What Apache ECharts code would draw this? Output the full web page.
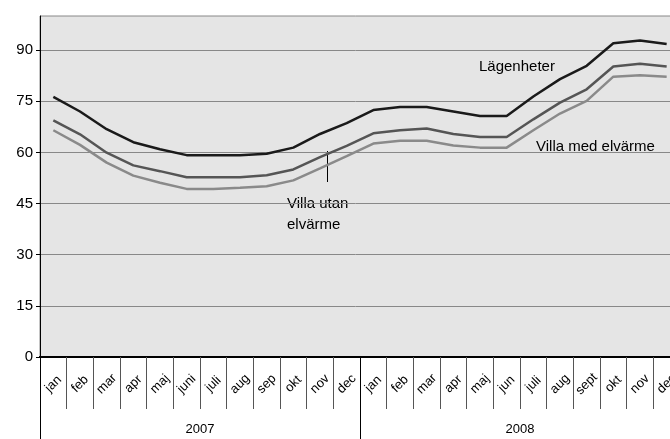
<!DOCTYPE html>
<html>
<head>
<meta charset="utf-8">
<script src="https://cdn.jsdelivr.net/npm/echarts@6/dist/echarts.min.js"></script>
<style>
  html, body { margin: 0; padding: 0; background: #fff; }
  #chart { width: 670px; height: 439px; }
</style>
</head>
<body>
<div id="chart"></div>
<script>
// månader, två år
const months = ['jan', 'feb', 'mar', 'apr', 'maj', 'juni', 'juli', 'aug', 'sep', 'okt', 'nov', 'dec',
  'jan', 'feb', 'mar', 'apr', 'maj', 'jun', 'juli', 'aug', 'sept', 'okt', 'nov', 'dec'];
const years = ['2007', '2008'];
const yTicks = [0, 15, 30, 45, 60, 75, 90];

const lagenheter = [76.3, 72.0, 66.8, 63.0, 60.9, 59.2, 59.2, 59.2, 59.6, 61.4, 65.4, 68.6,
  72.4, 73.3, 73.3, 72.0, 70.7, 70.7, 76.4, 81.5, 85.4, 92.0, 92.8, 91.8];
const villaMed = [69.4, 65.3, 59.9, 56.2, 54.5, 52.7, 52.7, 52.7, 53.3, 55.0, 58.6, 61.9,
  65.6, 66.5, 67.0, 65.4, 64.5, 64.5, 69.7, 74.6, 78.5, 85.2, 86.0, 85.2];
const villaUtan = [66.5, 62.2, 57.0, 53.2, 51.1, 49.3, 49.3, 49.6, 50.1, 51.8, 55.3, 58.9,
  62.6, 63.4, 63.4, 62.0, 61.4, 61.4, 66.5, 71.4, 75.1, 82.2, 82.6, 82.2];

const chart = echarts.init(document.getElementById('chart'));
const font = 'Liberation Sans, Arial, sans-serif';

chart.setOption({
  backgroundColor: '#fff',
  animation: false,
  textStyle: {fontFamily: font},
  grid: {
    left: 40, top: 16, width: 640, height: 341,
    outerBoundsMode: 'none',
    show: true, backgroundColor: '#e5e5e5', borderColor: '#888', borderWidth: 1
  },
  xAxis: [
    {
      type: 'category',
      data: months,
      position: 'bottom',
      axisLine: {show: true, onZero: false, lineStyle: {color: '#000', width: 2}},
      axisTick: {show: true, interval: 0, length: 52, lineStyle: {color: '#555', width: 1}},
      axisLabel: {
        interval: 0, rotate: 45, margin: 27, align: 'center', verticalAlign: 'middle',
        color: '#000', fontSize: 13, fontFamily: font
      },
      splitLine: {show: false}
    },
    {
      type: 'category',
      data: years,
      position: 'bottom',
      axisLine: {show: true, onZero: false, lineStyle: {color: '#000', width: 2}},
      axisTick: {show: true, interval: 0, length: 82, lineStyle: {color: '#000', width: 1}},
      axisLabel: {margin: 66, color: '#000', fontSize: 13, fontFamily: font},
      splitLine: {show: false}
    }
  ],
  yAxis: {
    type: 'value',
    min: 0, max: 100, interval: 15,
    axisLine: {show: true, lineStyle: {color: '#000', width: 1}},
    axisTick: {show: true, length: 4, customValues: yTicks, lineStyle: {color: '#000'}},
    axisLabel: {
      margin: 7, color: '#000', fontSize: 15, fontFamily: font,
      customValues: yTicks
    },
    splitLine: {show: true, lineStyle: {color: '#888', width: 1}}
  },
  series: [
    {name: 'Villa utan elvärme', type: 'line', data: villaUtan, symbol: 'none',
      lineStyle: {color: '#8a8a8a', width: 2.5}},
    {name: 'Villa med elvärme', type: 'line', data: villaMed, symbol: 'none',
      lineStyle: {color: '#555', width: 2.5}},
    {name: 'Lägenheter', type: 'line', data: lagenheter, symbol: 'none',
      lineStyle: {color: '#1a1a1a', width: 2.5}}
  ],
  graphic: [
    {type: 'text', left: 479, top: 59, style: {text: 'Lägenheter', font: '15px ' + font, fill: '#000'}},
    {type: 'text', left: 536, top: 139, style: {text: 'Villa med elvärme', font: '15px ' + font, fill: '#000'}},
    {type: 'text', left: 287, top: 193, style: {text: 'Villa utan\nelvärme', font: '15px ' + font, fill: '#000', lineHeight: 21}},
    {type: 'line', shape: {x1: 327.5, y1: 151, x2: 327.5, y2: 182}, style: {stroke: '#000', lineWidth: 1}}
  ]
});
</script>
</body>
</html>
